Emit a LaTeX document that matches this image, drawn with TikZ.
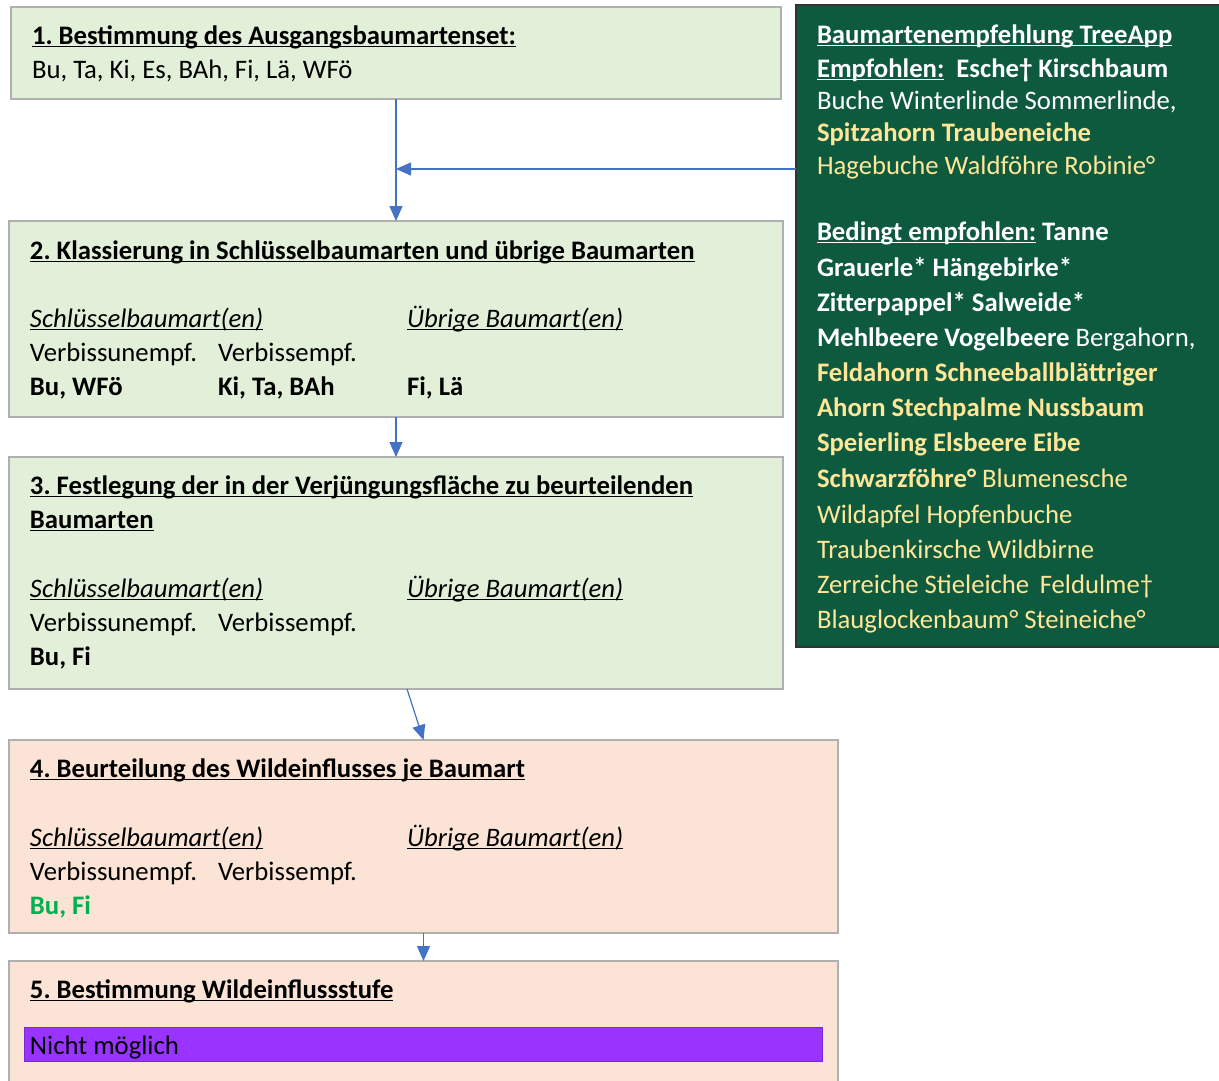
\documentclass[tikz,border=0pt]{standalone}
\usepackage{fontspec}
\setmainfont{Carlito}
\usetikzlibrary{arrows.meta}
\definecolor{boxgreen}{HTML}{E2EFD9}
\definecolor{boxpeach}{HTML}{FBE4D5}
\definecolor{boxborder}{HTML}{B0B0B0}
\definecolor{darkgreen}{HTML}{0E5A3F}
\definecolor{gold}{HTML}{FFE699}
\definecolor{arrowblue}{HTML}{4472C4}
\definecolor{greentext}{HTML}{00B050}
\definecolor{purplebar}{HTML}{9933FF}
\newsavebox\ulbox
\newcommand{\myul}[1]{\sbox\ulbox{#1}\rlap{\rule[-3.4pt]{\wd\ulbox}{1.5pt}}\usebox\ulbox}
\frenchspacing
\begin{document}
\begin{tikzpicture}[x=1pt,y=-1pt,
  stepbox/.style={draw=boxborder,line width=1.3pt,anchor=north west,inner sep=0,outer sep=0},
  greenbox/.style={stepbox,fill=boxgreen},
  peachbox/.style={stepbox,fill=boxpeach},
  txt/.style={anchor=base west,inner sep=0,outer sep=0,yshift=-1pt,font=\fontsize{26.7}{30}\selectfont\frenchspacing},
  wt/.style={txt,text=white},
  gt/.style={txt,text=gold},
  arr/.style={draw=arrowblue,line width=1.2pt,-{Triangle[length=15pt,width=13pt]}}]
\clip (0,0) rectangle (1219,1080);
\fill[white] (0,0) rectangle (1219,1080);
% boxes
\node[greenbox,minimum width=770pt,minimum height=92pt] (b1) at (11,7) {};
\node[greenbox,minimum width=774pt,minimum height=196pt] (b2) at (9,221) {};
\node[greenbox,minimum width=774pt,minimum height=232pt] (b3) at (9,457) {};
\node[peachbox,minimum width=829pt,minimum height=193pt] (b4) at (9,740) {};
\node[peachbox,minimum width=829pt,minimum height=130pt] (b5) at (9,961) {};
\node[draw=black!80,fill=darkgreen,line width=1.5pt,anchor=north west,inner sep=0,outer sep=0,minimum width=430pt,minimum height=642pt] (g) at (796,5) {};
\node[fill=purplebar,draw=purplebar!80!black,line width=0.6pt,anchor=north west,inner sep=0,outer sep=0,minimum width=798pt,minimum height=34pt] (bar) at (24,1027) {};
% box 1
\node[txt] (t1) at (32,43) {\bfseries\myul{1. Bestimmung des Ausgangsbaumartenset:}};
\node[txt] (t1b) at (32,77) {Bu, Ta, Ki, Es, BAh, Fi, Lä, WFö};
% box 2
\node[txt] (t2) at (30,258) {\bfseries\myul{2. Klassierung in Schlüsselbaumarten und übrige Baumarten}};
\node[txt] (t2a) at (30,326) {\itshape\myul{Schlüsselbaumart(en)}};
\node[txt] (t2b) at (407,326) {\itshape\myul{Übrige Baumart(en)}};
\node[txt] (t2c) at (30,360) {Verbissunempf.};
\node[txt] (t2d) at (218,360) {Verbissempf.};
\node[txt] (t2e) at (30,394) {\bfseries Bu, WFö};
\node[txt] (t2f) at (218,394) {\bfseries Ki, Ta, BAh};
\node[txt] (t2g) at (407,394) {\bfseries Fi, Lä};
% box 3
\node[txt] (t3) at (30,493) {\bfseries\myul{3. Festlegung der in der Verjüngungsfläche zu beurteilenden}};
\node[txt] (t3x) at (30,527) {\bfseries\myul{Baumarten}};
\node[txt] (t3a) at (30,596) {\itshape\myul{Schlüsselbaumart(en)}};
\node[txt] (t3b) at (407,596) {\itshape\myul{Übrige Baumart(en)}};
\node[txt] (t3c) at (30,630) {Verbissunempf.};
\node[txt] (t3d) at (218,630) {Verbissempf.};
\node[txt] (t3e) at (30,664) {\bfseries Bu, Fi};
% box 4
\node[txt] (t4) at (30,776) {\bfseries\myul{4. Beurteilung des Wildeinflusses je Baumart}};
\node[txt] (t4a) at (30,845) {\itshape\myul{Schlüsselbaumart(en)}};
\node[txt] (t4b) at (407,845) {\itshape\myul{Übrige Baumart(en)}};
\node[txt] (t4c) at (30,879) {Verbissunempf.};
\node[txt] (t4d) at (218,879) {Verbissempf.};
\node[txt,text=greentext] (t4e) at (30,913) {\bfseries Bu, Fi};
% box 5
\node[txt] (t5) at (30,997) {\bfseries\myul{5. Bestimmung Wildeinflussstufe}};
\node[txt] (t5a) at (30,1053) {Nicht möglich};
% green box text
\node[wt] (g1) at (817,42) {\bfseries\myul{Baumartenempfehlung TreeApp}};
\node[wt] (g2) at (817,76) {\bfseries\myul{Empfohlen:}\ \ Esche† Kirschbaum};
\node[wt] (g3) at (817,108) {Buche Winterlinde Sommerlinde,};
\node[gt] (g4) at (817,140) {\bfseries Spitzahorn Traubeneiche};
\node[gt] (g5) at (817,173) {Hagebuche Waldföhre Robinie°};
\node[wt] (g6) at (817,239) {\bfseries\myul{Bedingt empfohlen:} Tanne};
\node[wt] (g7) at (817,275) {\bfseries Grauerle* Hängebirke*};
\node[wt] (g8) at (817,310) {\bfseries Zitterpappel* Salweide*};
\node[wt] (g9) at (817,345) {\textbf{Mehlbeere Vogelbeere} Bergahorn,};
\node[gt] (g10) at (817,380) {\bfseries Feldahorn Schneeballblättriger};
\node[gt] (g11) at (817,415) {\bfseries Ahorn Stechpalme Nussbaum};
\node[gt] (g12) at (817,450) {\bfseries Speierling Elsbeere Eibe};
\node[gt] (g13) at (817,486) {\textbf{Schwarzföhre°} Blumenesche};
\node[gt] (g14) at (817,522) {Wildapfel Hopfenbuche};
\node[gt] (g15) at (817,557) {Traubenkirsche Wildbirne};
\node[gt] (g16) at (817,592) {Zerreiche Stieleiche\, Feldulme†};
\node[gt] (g17) at (817,627) {Blauglockenbaum° Steineiche°};
% connectors
\coordinate (j) at (b1.south |- 0,169);
\coordinate (gin) at (g.west |- 0,169);
\coordinate (b3out) at ([xshift=11pt]b3.south);
\draw[arr] (b1.south) -- (b2.north);
\draw[arr] (gin) -- (j);
\draw[arr] (b2.south) -- (b3.north);
\draw[arr] (b3out) -- (b4.north);
\draw[arr] (b4.south) -- (b5.north);
\end{tikzpicture}
\end{document}
